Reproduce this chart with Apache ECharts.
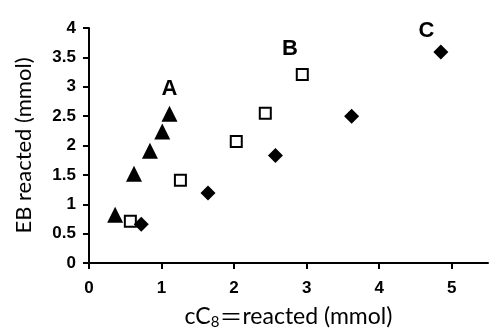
<!DOCTYPE html>
<html>
<head>
<meta charset="utf-8">
<script src="https://cdn.jsdelivr.net/npm/echarts@6/dist/echarts.min.js"></script>
<style>html,body{margin:0;padding:0;background:#fff}#c{width:502px;height:336px}</style>
</head>
<body>
<div id="c"></div>
<script>
// Series A (triangles)
const seriesA_x = [0.36, 0.62, 0.84, 1.01, 1.11];
const seriesA_y = [0.82, 1.52, 1.91, 2.24, 2.54];
// Series B (open squares)
const seriesB_x = [0.57, 1.26, 2.03, 2.43, 2.94];
const seriesB_y = [0.71, 1.41, 2.07, 2.55, 3.21];
// Series C (diamonds)
const seriesC_x = [0.72, 1.64, 2.57, 3.62, 4.85];
const seriesC_y = [0.66, 1.19, 1.83, 2.50, 3.59];
// Group labels
const groupNames = ['A', 'B', 'C'];
const groupLabelX = [1.11, 2.77, 4.65];
const groupLabelY = [2.97, 3.65, 3.95];
// Tick values
const xTicks = [0, 1, 2, 3, 4, 5];
const yTicks = [0, 0.5, 1, 1.5, 2, 2.5, 3, 3.5, 4];

const zip = (xs, ys) => xs.map((x, i) => [x, ys[i]]);
const tickFont = {fontFamily: 'Liberation Sans', fontWeight: 'bold', fontSize: 17, color: '#000'};
const titleFont = {fontFamily: 'Lato', fontSize: 22, color: '#000'};

const chart = echarts.init(document.getElementById('c'), null, {renderer: 'canvas'});
chart.setOption({
  animation: false,
  backgroundColor: '#fff',
  grid: {left: 89, right: 14, top: 28, bottom: 73, containLabel: false},
  xAxis: {
    type: 'value', min: 0, max: 5.5, interval: 1,
    axisLine: {show: true, onZero: false, lineStyle: {color: '#000', width: 2}},
    axisTick: {show: true, inside: false, length: 6, lineStyle: {color: '#000', width: 2}, customValues: xTicks},
    axisLabel: Object.assign({margin: 17, customValues: xTicks}, tickFont),
    splitLine: {show: false},
    name: '{a|cC}{s|8}{e|＝}{a|reacted (mmol)}',
    nameLocation: 'middle', nameGap: 40,
    nameTextStyle: {
      rich: {
        a: {fontFamily: 'Lato', fontSize: 23, color: '#000'},
        s: {fontFamily: 'Lato', fontSize: 15, color: '#000', padding: [12, 0, 0, 0]},
        e: {fontFamily: 'Noto Sans CJK SC', fontSize: 23, color: '#000'}
      }
    }
  },
  yAxis: {
    type: 'value', min: 0, max: 4, interval: 0.5,
    axisLine: {show: true, onZero: false, lineStyle: {color: '#000', width: 2}},
    axisTick: {show: true, inside: false, length: 6, lineStyle: {color: '#000', width: 2}},
    axisLabel: Object.assign({margin: 13, customValues: yTicks}, tickFont),
    splitLine: {show: false},
    name: 'EB reacted (mmol)',
    nameLocation: 'middle', nameGap: 54,
    nameTextStyle: titleFont
  },
  series: [
    {type: 'scatter', data: zip(seriesA_x, seriesA_y), symbol: 'triangle', symbolSize: 16,
     itemStyle: {color: '#000', opacity: 1}},
    {type: 'scatter', data: zip(seriesB_x, seriesB_y), symbol: 'rect', symbolSize: 11,
     itemStyle: {color: '#fff', borderColor: '#000', borderWidth: 2, opacity: 1}},
    {type: 'scatter', data: zip(seriesC_x, seriesC_y), symbol: 'diamond', symbolSize: 15,
     itemStyle: {color: '#000', opacity: 1}},
    {type: 'scatter', symbolSize: 0, itemStyle: {opacity: 1},
     data: groupNames.map((n, i) => ({name: n, value: [groupLabelX[i], groupLabelY[i]]})),
     label: {show: true, position: 'inside', formatter: '{b}', fontFamily: 'Liberation Sans',
             fontWeight: 'bold', fontSize: 22, color: '#000'}}
  ]
});
</script>
</body>
</html>
